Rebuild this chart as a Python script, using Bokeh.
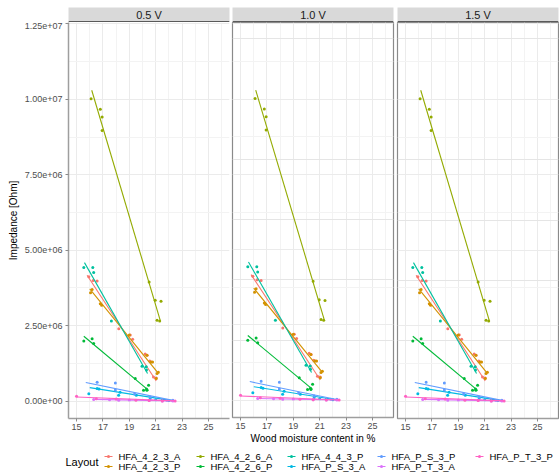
from bokeh.plotting import figure
from bokeh.layouts import row, column
from bokeh.models import FixedTicker, Label, Range1d, Grid
from bokeh.embed import file_html
from bokeh.resources import INLINE
from bokeh.core.properties import value

FONT = "Liberation Sans"

panels = ["0.5 V", "1.0 V", "1.5 V"]

layouts = ["HFA_4_2_3_A", "HFA_4_2_3_P", "HFA_4_2_6_A", "HFA_4_2_6_P", "HFA_4_4_3_P",
           "HFA_P_S_3_A", "HFA_P_S_3_P", "HFA_P_T_3_A", "HFA_P_T_3_P"]
colors = ["#F8766D", "#D39200", "#93AA00", "#00BA38", "#00C19F",
          "#00B9E3", "#619CFF", "#DB72FB", "#FF61C3"]

# measured points (moisture %, impedance Ohm)
x_4_2_3_A = [15.93, 16.26, 16.56, 18.2, 19.07, 19.25, 20.2, 20.35, 20.55, 20.83, 21.04]
y_4_2_3_A = [4.12e6, 4.0e6, 3.98e6, 2.4e6, 2.19e6, 2.05e6, 1.56e6, 1.52e6, 1.33e6, 8.0e5, 7.7e5]
x_4_2_3_P = [16.06, 16.18, 16.8, 16.9, 19.0, 20.33, 20.66, 20.76, 21.1, 21.04, 21.2]
y_4_2_3_P = [3.59e6, 3.7e6, 3.23e6, 3.18e6, 2.19e6, 1.52e6, 1.3e6, 1.3e6, 9.2e5, 7.5e5, 9.6e5]
x_4_2_6_A = [16.1, 16.8, 16.94, 16.94, 20.5, 20.96, 21.4, 21.1, 21.3]
y_4_2_6_A = [1.002e7, 9.67e6, 9.41e6, 8.97e6, 3.95e6, 3.34e6, 3.31e6, 2.68e6, 2.66e6]
x_4_2_6_P = [15.55, 16.18, 16.3, 19.45, 20.08, 20.3, 20.33, 20.46]
y_4_2_6_P = [1.99e6, 2.07e6, 1.91e6, 7.5e5, 3.6e5, 4.0e5, 3.6e5, 5.3e5]
x_4_4_3_P = [15.55, 16.23, 16.3, 17.64, 19.96, 20.28, 20.3]
y_4_4_3_P = [4.43e6, 4.43e6, 4.26e6, 2.66e6, 1.16e6, 1.14e6, 1.03e6]
x_P_S_3_A = [15.93, 16.56, 16.7, 18.19, 18.3, 19.53, 20.58, 21.0, 21.5, 22.0]
y_P_S_3_A = [2.5e5, 4.2e5, 4.0e5, 2.0e5, 3.0e5, 2.0e5, 9e4, 5e4, 3e4, 2e4]
x_P_S_3_P = [16.56, 17.94, 17.94, 19.4, 20.58, 21.85, 22.3]
y_P_S_3_P = [6.3e5, 6.0e5, 3.7e5, 2.4e5, 1.4e5, 3e4, 3e4]
x_P_T_3_A = [16.3, 17.5, 18.2, 19.0, 20.5, 21.5, 22.3]
y_P_T_3_A = [6e4, 5e4, 3e4, 4e4, 2e4, 1e4, 5e3]
x_P_T_3_P = [15.0, 16.5, 18.0, 19.5, 20.5, 21.5, 22.47]
y_P_T_3_P = [1.65e5, 8e4, 7e4, 3e4, 2e4, 1e4, 1e4]

# linear-fit lines (start / end)
fit_x_4_2_3_A = [15.8, 21.04];  fit_y_4_2_3_A = [4.17e6, 6.7e5]
fit_x_4_2_3_P = [16.0, 21.17];  fit_y_4_2_3_P = [3.72e6, 9.4e5]
fit_x_4_2_6_A = [16.15, 21.34]; fit_y_4_2_6_A = [1.03e7, 2.68e6]
fit_x_4_2_6_P = [15.55, 20.46]; fit_y_4_2_6_P = [2.15e6, 3.6e5]
fit_x_4_4_3_P = [15.6, 20.38];  fit_y_4_4_3_P = [4.59e6, 9.2e5]
fit_x_P_S_3_A = [16.0, 22.35];  fit_y_P_S_3_A = [4.5e5, 1e4]
fit_x_P_S_3_P = [15.7, 22.47];  fit_y_P_S_3_P = [6.2e5, 1e4]
fit_x_P_T_3_A = [16.3, 22.3];   fit_y_P_T_3_A = [6e4, 1e4]
fit_x_P_T_3_P = [15.0, 22.47];  fit_y_P_T_3_P = [1.4e5, 1e4]

points_x = [x_4_2_3_A, x_4_2_3_P, x_4_2_6_A, x_4_2_6_P, x_4_4_3_P, x_P_S_3_A, x_P_S_3_P, x_P_T_3_A, x_P_T_3_P]
points_y = [y_4_2_3_A, y_4_2_3_P, y_4_2_6_A, y_4_2_6_P, y_4_4_3_P, y_P_S_3_A, y_P_S_3_P, y_P_T_3_A, y_P_T_3_P]
fits_x = [fit_x_4_2_3_A, fit_x_4_2_3_P, fit_x_4_2_6_A, fit_x_4_2_6_P, fit_x_4_4_3_P, fit_x_P_S_3_A, fit_x_P_S_3_P, fit_x_P_T_3_A, fit_x_P_T_3_P]
fits_y = [fit_y_4_2_3_A, fit_y_4_2_3_P, fit_y_4_2_6_A, fit_y_4_2_6_P, fit_y_4_4_3_P, fit_y_P_S_3_A, fit_y_P_S_3_P, fit_y_P_T_3_A, fit_y_P_T_3_P]

x_ticks = [15, 17, 19, 21, 23, 25]
x_minor = [14, 16, 18, 20, 22, 24, 26]
y_ticks = [0, 2.5e6, 5.0e6, 7.5e6, 1.0e7, 1.25e7]
y_tick_labels = ["0.00e+00", "2.50e+06", "5.00e+06", "7.50e+06", "1.00e+07", "1.25e+07"]
y_minor = [-1.25e6, 1.25e6, 3.75e6, 6.25e6, 8.75e6, 1.125e7]

X_RANGE = (14.39, 26.59)
Y_RANGE = (-5.73e5, 1.2543e7)

widths = [231, 165, 163]
borders_left = [68, 1, 1]
borders_right = [2, 3, 1]
PANEL_H = 424
STRIP_H = 22
STRIP_TOP = 7

columns = []
for i, name in enumerate(panels):
    # strip header
    s = figure(width=widths[i], height=STRIP_H, x_range=Range1d(0, 1), y_range=Range1d(0, 1),
               output_backend="svg", toolbar_location=None,
               min_border_left=borders_left[i], min_border_right=borders_right[i],
               min_border_top=STRIP_TOP, min_border_bottom=0,
               x_axis_location=None, y_axis_location=None)
    s.grid.visible = False
    s.outline_line_color = None
    s.background_fill_color = "#D9D9D9"
    s.border_fill_color = "white"
    s.text(x=[0.5], y=[0.5], text=[name], text_align="center", text_baseline="middle",
           text_font=value(FONT), text_font_size="11px", text_color="#1A1A1A")
    s.segment(x0=[0], y0=[0.05], x1=[1], y1=[0.05], line_color="#5A5A5A", line_width=1.5)

    p = figure(width=widths[i], height=PANEL_H, x_range=Range1d(*X_RANGE), y_range=Range1d(*Y_RANGE),
               output_backend="svg", toolbar_location=None,
               min_border_left=borders_left[i], min_border_right=borders_right[i],
               min_border_top=0, min_border_bottom=28,
               y_axis_location="left" if i == 0 else None)
    p.background_fill_color = "white"
    p.border_fill_color = "white"
    if i == 0:
        p.outline_line_color = None
    else:
        p.outline_line_color = "#8A8A8A"
        p.outline_line_width = 1.2

    p.xaxis.ticker = FixedTicker(ticks=x_ticks, minor_ticks=x_minor)
    xa = p.xaxis[0]
    xa.major_label_text_font = FONT
    xa.major_label_text_font_size = "9px"
    xa.major_label_text_color = "#4D4D4D"
    xa.major_tick_out = 3
    xa.major_tick_in = 0
    xa.minor_tick_line_color = None
    xa.major_tick_line_color = "#8A8A8A"
    xa.axis_line_color = "#9E9E9E"
    xa.axis_line_width = 1.5
    xa.major_label_standoff = 1
    if i == 1:
        xa.axis_label = "Wood moisture content in %"
        xa.axis_label_text_font = FONT
        xa.axis_label_text_font_size = "10px"
        xa.axis_label_text_font_style = "normal"
        xa.axis_label_text_color = "black"
        xa.axis_label_standoff = 1

    if i == 0:
        p.yaxis.ticker = FixedTicker(ticks=y_ticks, minor_ticks=y_minor)
        ya = p.yaxis[0]
        ya.major_label_overrides = {t: lab for t, lab in zip(y_ticks, y_tick_labels)}
        ya.major_label_text_font = FONT
        ya.major_label_text_font_size = "9px"
        ya.major_label_text_color = "#4D4D4D"
        ya.major_tick_out = 3
        ya.major_tick_in = 0
        ya.minor_tick_line_color = None
        ya.major_tick_line_color = "#8A8A8A"
        ya.axis_line_color = "#9E9E9E"
        ya.axis_line_width = 1.5
        ya.major_label_standoff = 2
        ya.axis_label = "Impedance [Ohm]"
        ya.axis_label_text_font = FONT
        ya.axis_label_text_font_size = "10px"
        ya.axis_label_text_font_style = "normal"
        ya.axis_label_text_color = "black"
        ya.axis_label_standoff = 3
        ygrid = p.ygrid[0]
    else:
        ygrid = Grid(dimension=1, ticker=FixedTicker(ticks=y_ticks, minor_ticks=y_minor))
        p.add_layout(ygrid)
    for g in [p.xgrid[0], ygrid]:
        g.grid_line_color = "#EBEBEB"
        g.grid_line_width = 1
        g.minor_grid_line_color = "#F3F3F3"
        g.minor_grid_line_width = 1

    for k in range(len(layouts)):
        p.line(fits_x[k], fits_y[k], line_color=colors[k], line_width=1.1)
        p.scatter(points_x[k], points_y[k], marker="circle", size=3,
                  fill_color=colors[k], line_color=None)

    columns.append(column(s, p))

# legend strip (key layout in pixels of the legend area)
LEG_W, LEG_H = 559, 26
lf = figure(width=LEG_W, height=LEG_H, x_range=Range1d(0, LEG_W), y_range=Range1d(LEG_H, 0),
            output_backend="svg", toolbar_location=None,
            min_border_left=0, min_border_right=0, min_border_top=0, min_border_bottom=0,
            x_axis_location=None, y_axis_location=None)
lf.grid.visible = False
lf.outline_line_color = None
col_starts = [104, 196, 287, 377, 475]
row_y = [10, 20]
KEY_W = 8
for k, lab in enumerate(layouts):
    cx = col_starts[k // 2]
    ry = row_y[k % 2]
    lf.segment(x0=[cx], y0=[ry], x1=[cx + KEY_W], y1=[ry], line_color=colors[k], line_width=1.1)
    lf.scatter(x=[cx + KEY_W / 2], y=[ry], marker="circle", size=3, fill_color=colors[k], line_color=None)
    lf.text(x=[cx + KEY_W + 6], y=[ry], text=[lab], text_align="left", text_baseline="middle",
            text_font=value(FONT), text_font_size="9.5px", text_color="black")
lf.add_layout(Label(x=65, y=LEG_H - 15, x_units="screen", y_units="screen", text="Layout",
                    text_font=FONT, text_font_size="11px", text_baseline="middle",
                    text_color="black"))

layout = column(row(*columns), lf)
open("out.html", "w").write(file_html(layout, INLINE))
